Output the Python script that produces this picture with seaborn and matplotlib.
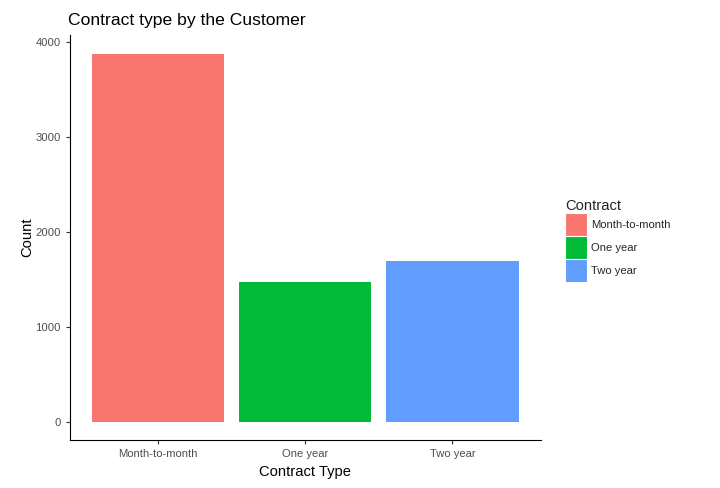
import matplotlib
matplotlib.use("Agg")
import matplotlib.pyplot as plt
import seaborn as sns
import pandas as pd
from matplotlib.patches import Patch

contract_types = ["Month-to-month", "One year", "Two year"]
counts = [3875, 1473, 1695]
colors = ["#F8766D", "#00BA38", "#619CFF"]

df = pd.DataFrame({"Contract": contract_types, "Count": counts})

sns.set_style("white")
plt.rcParams["font.family"] = ["Liberation Sans", "DejaVu Sans"]

fig = plt.figure(figsize=(7.2, 4.88), dpi=100)
ax = fig.add_axes([0.097, 0.098, 0.654, 0.830])

sns.barplot(data=df, x="Contract", y="Count", hue="Contract",
            palette=colors, width=0.9, dodge=False, legend=False,
            saturation=1, linewidth=0, ax=ax)

ax.set_xlim(-0.6, 2.6)
ax.set_ylim(-194, 4069)
ax.set_yticks([0, 1000, 2000, 3000, 4000])
ax.tick_params(axis="both", labelsize=8.1, labelcolor="#4D4D4D", length=3,
               direction="out", bottom=True, left=True, color="#333333")
for side in ["top", "right"]:
    ax.spines[side].set_visible(False)
for side in ["left", "bottom"]:
    ax.spines[side].set_color("black")
    ax.spines[side].set_linewidth(0.8)

ax.set_xlabel("Contract Type", fontsize=10.6, color="black", labelpad=4)
ax.set_ylabel("Count", fontsize=10.6, color="black", labelpad=1)
ax.set_title("Contract type by the Customer", fontsize=12.6, loc="left",
             x=-0.004, pad=7, color="black")

handles = [Patch(facecolor=c, edgecolor="white", linewidth=0.8) for c in colors]
leg = fig.legend(handles, contract_types, title="Contract",
                 loc="upper left", bbox_to_anchor=(0.779, 0.602),
                 frameon=False, fontsize=8.1, title_fontsize=10.6,
                 handlelength=1.9, handleheight=2.7, handletextpad=0.4,
                 labelspacing=0.05, borderaxespad=0)
leg._legend_box.align = "left"

fig.savefig("out.png", dpi=100)
